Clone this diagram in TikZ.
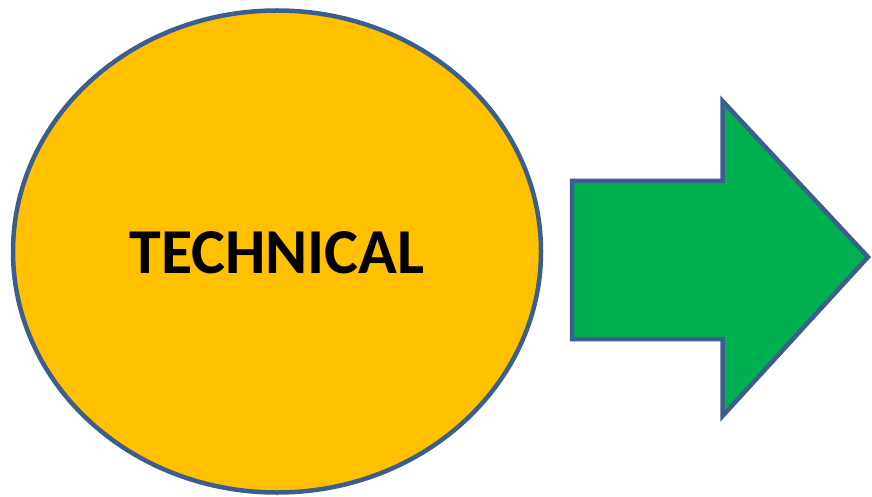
\documentclass[tikz,border=0pt]{standalone}
\usepackage{fontspec}
\setmainfont{Carlito}
\usetikzlibrary{shapes.geometric}
\definecolor{edgeblue}{HTML}{3B5E8C}
\definecolor{ovalfill}{HTML}{FFC000}
\definecolor{arrowfill}{HTML}{00B050}
\tikzset{
  shapeline/.style={draw=edgeblue, line width=4.5pt, line join=miter},
}
\begin{document}
\begin{tikzpicture}[x=1pt,y=-1pt]
\useasboundingbox (0,0) rectangle (872,497);
\node (oval) [shapeline, fill=ovalfill, ellipse, minimum width=528pt, minimum height=482pt, inner sep=0pt] at (277,251.5) {};
\path[shapeline, fill=arrowfill] (572,181) -- (722.5,181) -- (722.5,101) -- (868,257) -- (722.5,416) -- (722.5,339) -- (572,339) -- cycle;
\node (label) [font=\bfseries\fontsize{64}{76}\selectfont, inner sep=0pt, anchor=base] at (277,273.5) {TECHNICAL};
\end{tikzpicture}
\end{document}
